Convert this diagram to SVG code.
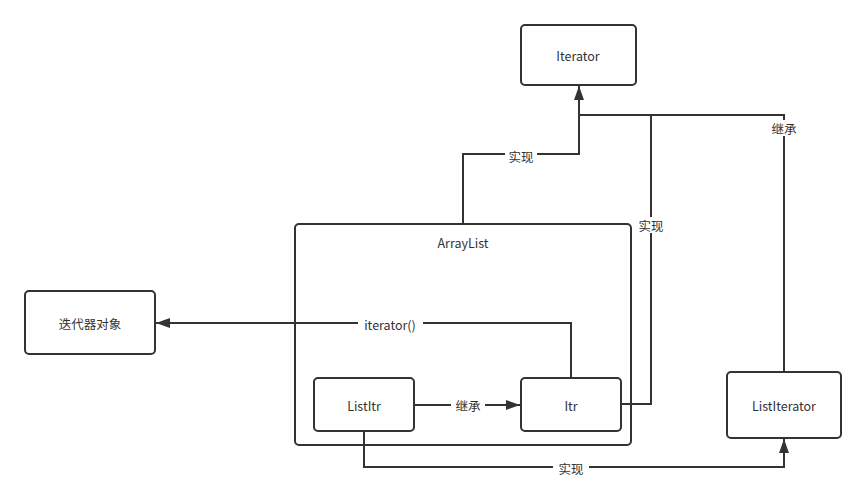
<svg xmlns="http://www.w3.org/2000/svg" width="866" height="492" viewBox="0 0 866 492">
<style>
.box{fill:#fff;stroke:#333;stroke-width:2}
.t{font-family:"Noto Sans CJK SC","Noto Sans",sans-serif;font-size:12.5px;fill:#333;text-anchor:middle;dominant-baseline:central}
.ln{fill:none;stroke:#333;stroke-width:2}
.lbg{fill:#fff}
</style>
<defs>
<marker id="arr" viewBox="0 0 14 10" refX="14" refY="5" markerWidth="14" markerHeight="10" markerUnits="userSpaceOnUse" orient="auto">
<path d="M0,0 L14,5 L0,10 Z" fill="#333"/>
</marker>
</defs>
<rect width="866" height="492" fill="#fff"/>
<g id="node-arraylist">
<rect class="box" x="295" y="224" width="336" height="221" rx="4"/>
<text class="t" x="463" y="242">ArrayList</text>
</g>
<g id="connectors">
<path class="ln" d="M463,224 V154 H579 V86" marker-end="url(#arr)"/>
<path class="ln" d="M621,404 H651 V115 H579"/>
<path class="ln" d="M784,372 V115 H579"/>
<path class="ln" d="M571,378 V323 H156" marker-end="url(#arr)"/>
<path class="ln" d="M414,405 H520" marker-end="url(#arr)"/>
<path class="ln" d="M364,431 V467 H784 V439" marker-end="url(#arr)"/>
<rect class="lbg" x="505" y="147" width="32" height="16"/>
<text class="t" x="521" y="156">实现</text>
<rect class="lbg" x="637" y="217" width="28" height="16"/>
<text class="t" x="651" y="225">实现</text>
<rect class="lbg" x="770" y="120" width="28" height="16"/>
<text class="t" x="784" y="128">继承</text>
<rect class="lbg" x="358" y="316" width="65" height="16"/>
<text class="t" x="390" y="324">iterator()</text>
<rect class="lbg" x="451" y="397" width="34" height="16"/>
<text class="t" x="468" y="405">继承</text>
<rect class="lbg" x="553" y="460" width="36" height="16"/>
<text class="t" x="571" y="468">实现</text>
</g>
<g id="node-iterator">
<rect class="box" x="521" y="25" width="115" height="60" rx="4"/>
<text class="t" x="578" y="55">Iterator</text>
</g>
<g id="node-listitr">
<rect class="box" x="314" y="378" width="100" height="53" rx="4"/>
<text class="t" x="364" y="405">ListItr</text>
</g>
<g id="node-itr">
<rect class="box" x="521" y="378" width="100" height="53" rx="4"/>
<text class="t" x="571" y="405">Itr</text>
</g>
<g id="node-iterobj">
<rect class="box" x="25" y="291" width="130" height="63" rx="4"/>
<text class="t" x="90" y="323">迭代器对象</text>
</g>
<g id="node-listiterator">
<rect class="box" x="727" y="372" width="114" height="66" rx="4"/>
<text class="t" x="784" y="405">ListIterator</text>
</g>
</svg>
